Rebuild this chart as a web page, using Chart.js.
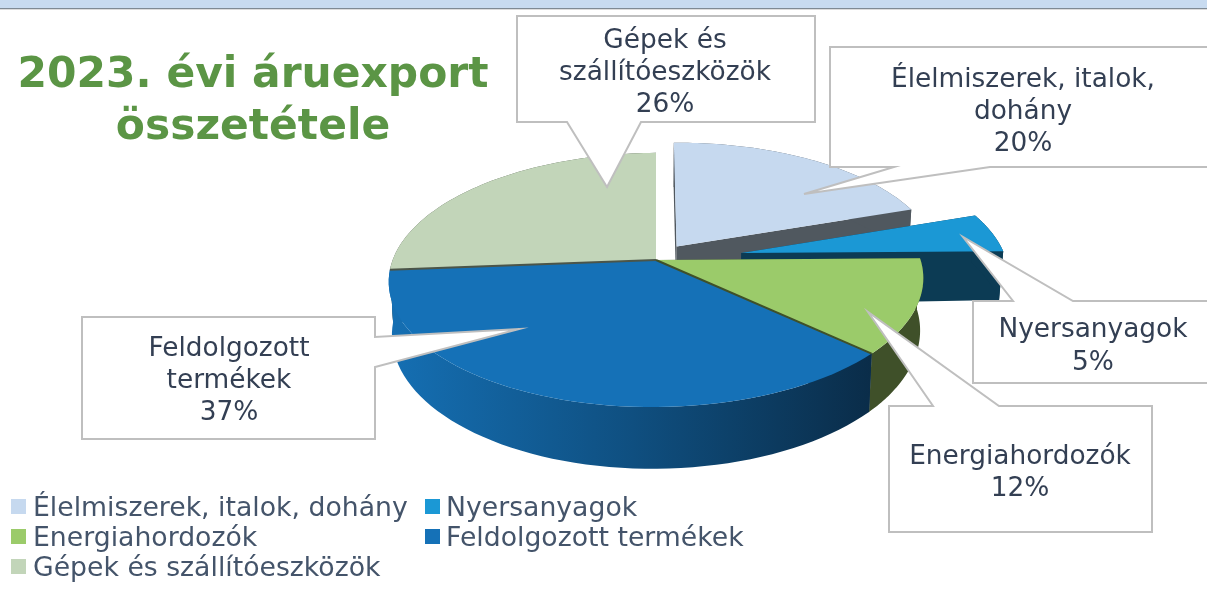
<!DOCTYPE html>
<html lang="hu">
<head>
<meta charset="utf-8">
<title>2023. évi áruexport összetétele</title>
<script src="https://cdn.jsdelivr.net/npm/chart.js@4"></script>
<style>
  html, body { margin: 0; padding: 0; background: #fff; overflow: hidden; }
  canvas { display: block; }
</style>
</head>
<body>
<canvas id="pie" width="1207" height="592"></canvas>
<script>
const titleLines = ["2023. évi áruexport", "összetétele"];
const categories = ["Élelmiszerek, italok, dohány", "Nyersanyagok", "Energiahordozók", "Feldolgozott termékek", "Gépek és szállítóeszközök"];
const shares = [20, 5, 12, 37, 26];
const calloutLines = [["Élelmiszerek, italok,", "dohány"], ["Nyersanyagok"], ["Energiahordozók"], ["Feldolgozott", "termékek"], ["Gépek és", "szállítóeszközök"]];

const topColors = ["#c6d9ef", "#1b98d5", "#9bcb6a", "#1571b7", "#c2d5b9"];
const wallColors = ["#50585f", "#0c3b54", "#3f5029", null, "#4b5549"];
const explode = [0.135, 0.33, 0, 0, 0]; // share of the radius

// fake 3D: the unit disc goes through a small perspective
const view = { cx: 656, cy: 260, rx: 264, ry: 124, k: 0.157, depth: 52, tilt: 0.007 };

function project(u, v, h) {
  const f = 1 / (1 - view.k * v);
  const x = view.cx + view.rx * u * f * (1 - 0.012 * h);
  const taper = 1 - 0.1 * Math.max(0, u - 0.8); // far right side is a bit shallower
  return [x, view.cy + view.ry * v * f + view.depth * taper * h * f - view.tilt * (x - view.cx)];
}

// callout boxes: box, then the three points of the pointer
const callouts = [
  { box: [830, 47, 400, 120], side: "bottom", ptr: [[894, 167], [804, 194], [990, 167]], tx: 1023, ty: 87, lh: 32 },
  { box: [973, 301, 300, 82], side: "top", ptr: [[1013, 301], [963, 237], [1073, 301]], tx: 1093, ty: 337, lh: 33 },
  { box: [889, 406, 263, 126], side: "top", ptr: [[933, 406], [868, 312], [999, 406]], tx: 1020, ty: 464, lh: 32 },
  { box: [82, 317, 293, 122], side: "right", ptr: [[375, 337], [519, 329], [375, 367]], tx: 229, ty: 356, lh: 32 },
  { box: [517, 16, 298, 106], side: "bottom", ptr: [[567, 122], [607, 187], [641, 122]], tx: 665, ty: 48, lh: 32 }
];

function rimPoints(arc, i, h) {
  const mid = (arc.startAngle + arc.endAngle) / 2;
  const ox = Math.cos(mid) * explode[i];
  const oy = Math.sin(mid) * explode[i];
  const pts = [];
  const n = 60;
  for (let s = 0; s <= n; s++) {
    const a = arc.startAngle + (arc.endAngle - arc.startAngle) * s / n;
    pts.push(project(Math.cos(a) + ox, Math.sin(a) + oy, h));
  }
  return { pts, apex: project(ox, oy, h) };
}

function fillPoly(ctx, pts, color) {
  ctx.beginPath();
  pts.forEach((p, j) => j ? ctx.lineTo(p[0], p[1]) : ctx.moveTo(p[0], p[1]));
  ctx.closePath();
  ctx.fillStyle = color;
  ctx.fill();
}

function drawSlice(ctx, arc, i) {
  const top = rimPoints(arc, i, 0);
  const bot = rimPoints(arc, i, 1);
  let wall = wallColors[i];
  if (!wall) {
    wall = ctx.createLinearGradient(390, 0, 875, 0);
    wall.addColorStop(0, "#156fb3");
    wall.addColorStop(0.5, "#0f4f80");
    wall.addColorStop(1, "#0a2c48");
  }
  const last = top.pts.length - 1;
  fillPoly(ctx, [top.apex, top.pts[0], bot.pts[0], bot.apex], wall);
  fillPoly(ctx, [top.apex, top.pts[last], bot.pts[last], bot.apex], wall);
  fillPoly(ctx, top.pts.concat(bot.pts.slice().reverse()), wall);
  fillPoly(ctx, [top.apex].concat(top.pts), topColors[i]);
}

function edgeLine(ctx, arc, i, angle, color) {
  const a = rimPoints(arc, i, 0).apex;
  const p = project(Math.cos(angle), Math.sin(angle), 0);
  ctx.beginPath();
  ctx.moveTo(a[0], a[1]);
  ctx.lineTo(p[0], p[1]);
  ctx.strokeStyle = color;
  ctx.lineWidth = 2;
  ctx.stroke();
}

const pie3d = {
  id: "pie3d",
  beforeDatasetDraw(chart) {
    const ctx = chart.ctx;
    const arcs = chart.getDatasetMeta(0).data;
    ctx.save();
    // back to front
    [4, 0, 1, 2, 3].forEach(i => drawSlice(ctx, arcs[i], i));
    edgeLine(ctx, arcs[4], 4, arcs[4].startAngle, "#4b5549");
    edgeLine(ctx, arcs[2], 2, arcs[2].endAngle, "#3f5029");
    ctx.restore();
    return false; // the library's flat pie is not wanted
  },
  afterDraw(chart) {
    const ctx = chart.ctx;
    ctx.save();

    // band at the top of the slide
    ctx.fillStyle = "#c8dbf0";
    ctx.fillRect(0, 0, 1207, 8);
    ctx.fillStyle = "#7f8a94";
    ctx.fillRect(0, 8, 1207, 1);
    ctx.fillStyle = "#dcdcdc";
    ctx.fillRect(0, 9, 1207, 1);

    // title
    ctx.fillStyle = "#5b9545";
    ctx.font = "bold 42.4px 'DejaVu Sans'";
    ctx.textAlign = "center";
    ctx.textBaseline = "alphabetic";
    titleLines.forEach((t, i) => ctx.fillText(t, 253, 87 + i * 52));

    // callouts
    callouts.forEach((c, i) => {
      const [x, y, w, h] = c.box;
      const r = x + w, b = y + h;
      let path;
      if (c.side === "top") path = [[x, y], ...c.ptr, [r, y], [r, b], [x, b]];
      if (c.side === "bottom") path = [[x, y], [r, y], [r, b], ...c.ptr.slice().reverse(), [x, b]];
      if (c.side === "right") path = [[x, y], [r, y], ...c.ptr, [r, b], [x, b]];
      ctx.beginPath();
      path.forEach((p, j) => j ? ctx.lineTo(p[0], p[1]) : ctx.moveTo(p[0], p[1]));
      ctx.closePath();
      ctx.fillStyle = "#fff";
      ctx.fill();
      ctx.strokeStyle = "#bfbfbf";
      ctx.lineWidth = 2;
      ctx.stroke();

      ctx.fillStyle = "#333f53";
      ctx.font = "26.4px 'DejaVu Sans'";
      ctx.textAlign = "center";
      const lines = calloutLines[i].concat(shares[i] + "%");
      lines.forEach((t, j) => ctx.fillText(t, c.tx, c.ty + j * c.lh));
    });

    // legend, two columns filled row by row
    ctx.font = "26.7px 'DejaVu Sans'";
    ctx.textAlign = "left";
    categories.forEach((name, i) => {
      const col = i % 2, row = Math.floor(i / 2);
      const x = col ? 425 : 11;
      const y = 499 + row * 30;
      ctx.fillStyle = topColors[i];
      ctx.fillRect(x, y, 15, 15);
      ctx.fillStyle = "#44546a";
      ctx.fillText(name, col ? 446 : 33, y + 17);
    });
    ctx.restore();
  }
};

new Chart(document.getElementById("pie"), {
  type: "pie",
  data: { labels: categories, datasets: [{ data: shares, backgroundColor: topColors, borderWidth: 0 }] },
  options: {
    responsive: false,
    animation: false,
    plugins: { legend: { display: false }, tooltip: { enabled: false } }
  },
  plugins: [pie3d]
});
</script>
</body>
</html>
